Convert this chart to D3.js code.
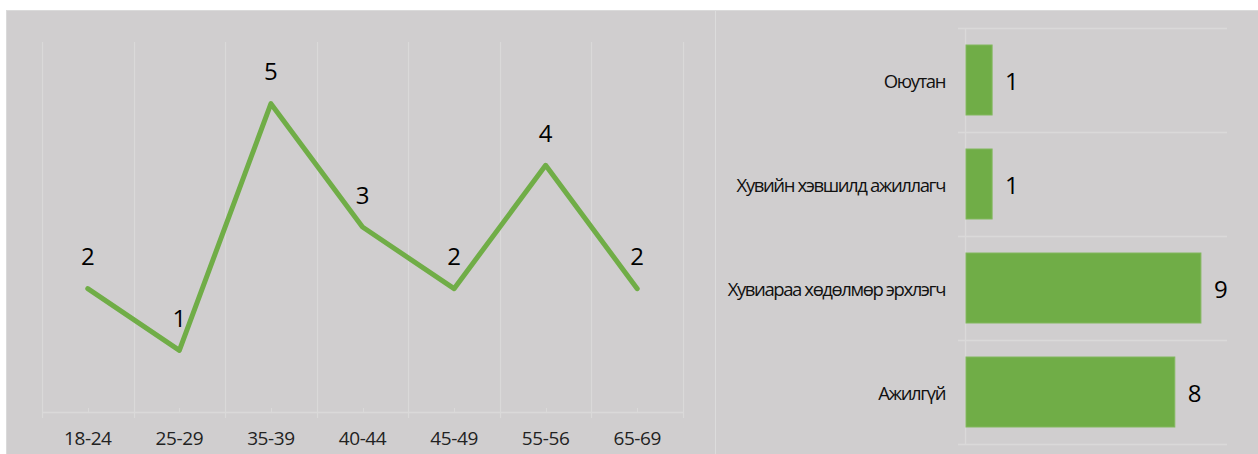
<!DOCTYPE html>
<html>
<head>
<meta charset="utf-8">
<script src="https://cdn.jsdelivr.net/npm/d3@7"></script>
<style>
  body { margin: 0; background: #fff; }
  text { font-family: "Open Sans", "Noto Sans", sans-serif; }
</style>
</head>
<body>
<div id="graph"></div>
<script>
// age groups (line chart)
const ageGroups = ["18-24", "25-29", "35-39", "40-44", "45-49", "55-56", "65-69"];
const ageCounts = [2, 1, 5, 3, 2, 4, 2];

// occupation (bar chart)
const jobs = ["Оюутан", "Хувийн хэвшилд ажиллагч", "Хувиараа хөдөлмөр эрхлэгч", "Ажилгүй"];
const jobCounts = [1, 1, 9, 8];

(function() {
    const width = 1258, height = 454,
        green = "#70ad47",
        bg = "#d0cecf",
        gridColor = "#dad9d9";

    const svg = d3.select("#graph")
        .append("svg")
        .attr("width", width)
        .attr("height", height);

    // panel background
    svg.append("rect")
        .attr("x", 6.5).attr("y", 10.5)
        .attr("width", width).attr("height", height)
        .attr("fill", bg)
        .attr("stroke", "#dadada");

    // divider between the two charts
    svg.append("line")
        .attr("x1", 715.5).attr("x2", 715.5)
        .attr("y1", 11).attr("y2", height)
        .attr("stroke", "#dcdcdc");

    // ---------- left: line chart ----------
    const xRange = d3.scaleBand()
        .domain(ageGroups)
        .range([42, 683])
        .padding(0);

    const yRange = d3.scaleLinear()
        .domain([0, 6])
        .range([412, 42]);

    const left = svg.append("g");

    const bounds = ageGroups.map(d => xRange(d)).concat([xRange.range()[1]]);

    // vertical gridlines between categories
    left.selectAll(".vgrid")
        .data(bounds)
        .enter()
        .append("line")
        .attr("x1", d => Math.round(d) + 0.5)
        .attr("x2", d => Math.round(d) + 0.5)
        .attr("y1", yRange(6))
        .attr("y2", yRange(0) + 6)
        .attr("stroke", gridColor)
        .attr("stroke-width", 1.2);

    // axis line + small centre ticks
    left.append("line")
        .attr("x1", xRange.range()[0]).attr("x2", xRange.range()[1])
        .attr("y1", yRange(0) + 0.5).attr("y2", yRange(0) + 0.5)
        .attr("stroke", gridColor)
        .attr("stroke-width", 1.5);

    left.selectAll(".ctick")
        .data(ageGroups)
        .enter()
        .append("line")
        .attr("x1", d => Math.round(xRange(d) + xRange.bandwidth() / 2) + 0.5)
        .attr("x2", d => Math.round(xRange(d) + xRange.bandwidth() / 2) + 0.5)
        .attr("y1", yRange(0) - 4)
        .attr("y2", yRange(0))
        .attr("stroke", gridColor);

    // category labels
    const xAxis = d3.axisBottom(xRange).tickSize(0).tickPadding(0);
    const gx = left.append("g")
        .attr("transform", "translate(0," + (yRange(0) + 19) + ")")
        .call(xAxis);
    gx.select(".domain").remove();
    gx.selectAll("text")
        .attr("font-family", "'Open Sans', sans-serif")
        .attr("font-size", 19)
        .attr("fill", "#222")
        .attr("letter-spacing", -0.4);

    const points = ageGroups.map((g, i) => ({g: g, v: ageCounts[i]}));

    const line = d3.line()
        .x(d => xRange(d.g) + xRange.bandwidth() / 2)
        .y(d => yRange(d.v));

    left.append("path")
        .datum(points)
        .attr("d", line)
        .attr("fill", "none")
        .attr("stroke", green)
        .attr("stroke-width", 5)
        .attr("stroke-linejoin", "round")
        .attr("stroke-linecap", "round");

    left.selectAll(".plabel")
        .data(points)
        .enter()
        .append("text")
        .attr("x", d => xRange(d.g) + xRange.bandwidth() / 2)
        .attr("y", d => yRange(d.v) - 33)
        .attr("text-anchor", "middle")
        .attr("dominant-baseline", "central")
        .attr("font-size", 24)
        .attr("fill", "#000")
        .text(d => d.v);

    // ---------- right: bar chart ----------
    const yBand = d3.scaleBand()
        .domain(jobs)
        .range([28, 444])
        .paddingInner(0.327)
        .paddingOuter(0.1635);

    const xLin = d3.scaleLinear()
        .domain([0, 10])
        .range([966, 1227]);

    const right = svg.append("g");

    const rowBounds = jobs.map(d => yBand(d) - yBand.step() * yBand.paddingInner() / 2)
        .concat([yBand.range()[1]]);

    right.selectAll(".hgrid")
        .data(rowBounds)
        .enter()
        .append("line")
        .attr("x1", xLin(0) - 8)
        .attr("x2", xLin(10))
        .attr("y1", d => Math.round(d) + 0.5)
        .attr("y2", d => Math.round(d) + 0.5)
        .attr("stroke", gridColor)
        .attr("stroke-width", 1.3);

    right.append("line")
        .attr("x1", xLin(0) - 0.5).attr("x2", xLin(0) - 0.5)
        .attr("y1", yBand.range()[0]).attr("y2", yBand.range()[1])
        .attr("stroke", gridColor)
        .attr("stroke-width", 1.3);

    const bars = jobs.map((j, i) => ({j: j, v: jobCounts[i]}));

    right.selectAll(".bar")
        .data(bars)
        .enter()
        .append("rect")
        .attr("class", "bar")
        .attr("x", xLin(0))
        .attr("y", d => yBand(d.j))
        .attr("width", d => xLin(d.v) - xLin(0))
        .attr("height", yBand.bandwidth())
        .attr("fill", green)
        .attr("stroke", "#82b85e")
        .attr("stroke-width", 1);

    right.selectAll(".vlabel")
        .data(bars)
        .enter()
        .append("text")
        .attr("x", d => xLin(d.v) + 13)
        .attr("y", d => yBand(d.j) + yBand.bandwidth() / 2)
        .attr("dominant-baseline", "central")
        .attr("font-size", 24)
        .attr("fill", "#000")
        .text(d => d.v);

    right.selectAll(".clabel")
        .data(bars)
        .enter()
        .append("text")
        .attr("x", xLin(0) - 21)
        .attr("y", d => yBand(d.j) + yBand.bandwidth() / 2)
        .attr("text-anchor", "end")
        .attr("dominant-baseline", "central")
        .attr("font-size", 18.5)
        .attr("letter-spacing", -1.4)
        .attr("fill", "#111")
        .text(d => d.j);
})();
</script>
</body>
</html>
